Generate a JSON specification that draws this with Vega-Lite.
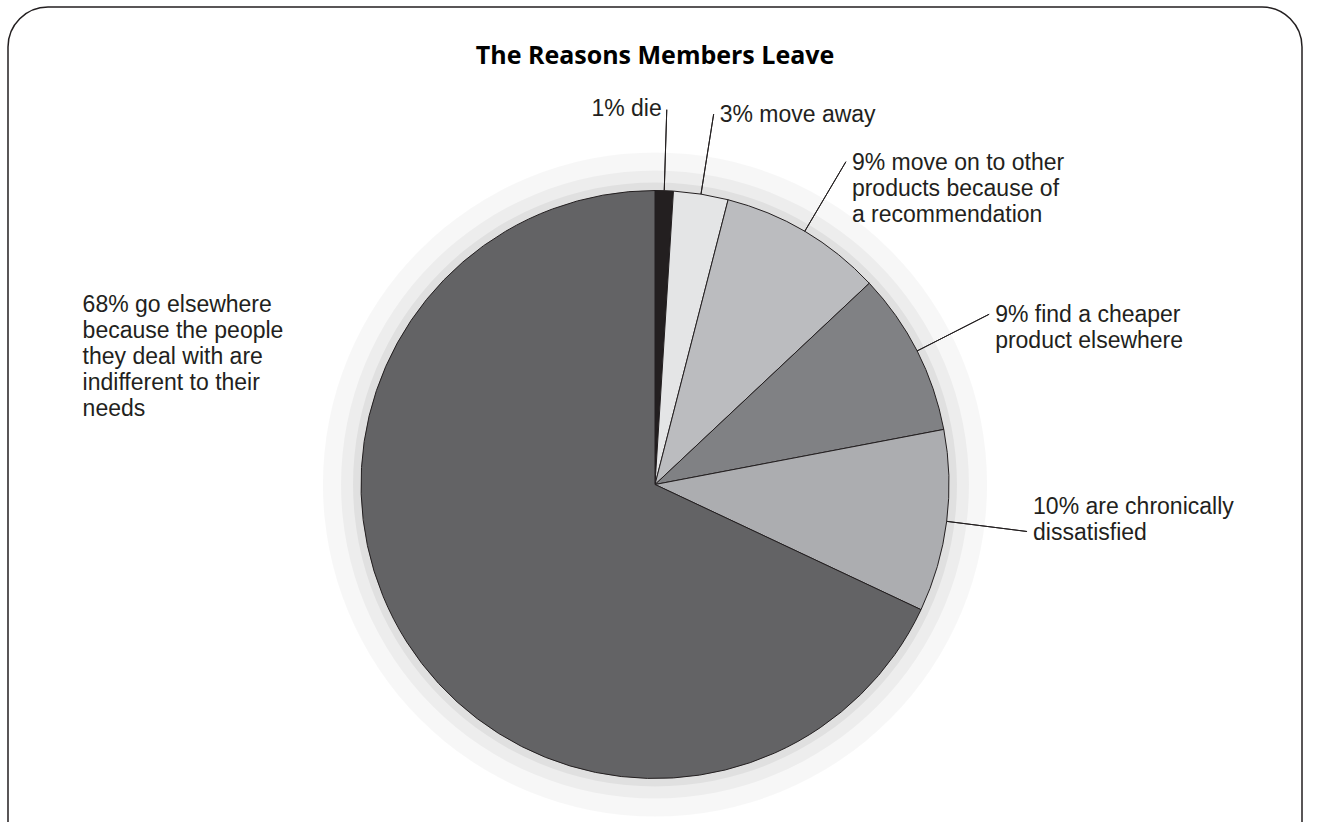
{
  "$schema": "https://vega.github.io/schema/vega-lite/v6.json",
  "width": 1294,
  "height": 955,
  "autosize": "none",
  "padding": {"left": 8, "top": 7, "right": 18, "bottom": -140},
  "background": "white",
  "view": {"stroke": "#231f20", "strokeWidth": 1.5, "cornerRadius": 40, "fill": "white"},
  "title": {
    "text": "The Reasons Members Leave",
    "anchor": "middle",
    "baseline": "alphabetic",
    "offset": -82
  },
  "config": {
    "title": {"font": "Open Sans", "fontSize": 25, "fontWeight": "bold", "color": "#000000"},
    "text": {"font": "Liberation Sans", "fontSize": 23}
  },
  "data": {
    "values": [
      {"reason": "1 die", "share": 1, "label": "1% die"},
      {"reason": "2 move away", "share": 3, "label": "3% move away"},
      {"reason": "3 recommendation", "share": 9, "label": "9% move on to other\nproducts because of\na recommendation"},
      {"reason": "4 cheaper product", "share": 9, "label": "9% find a cheaper\nproduct elsewhere"},
      {"reason": "5 chronic dissatisfaction", "share": 10, "label": "10% are chronically\ndissatisfied"},
      {"reason": "6 indifference", "share": 68, "label": "68% go elsewhere\nbecause the people\nthey deal with are\nindifferent to their\nneeds"}
    ]
  },
  "layer": [
    {
      "transform": [{"aggregate": [{"op": "sum", "field": "share", "as": "share"}]}],
      "mark": {"type": "arc", "radius": 332, "radius2": 294, "color": "#000000", "opacity": 0.03},
      "encoding": {"theta": {"field": "share", "type": "quantitative", "stack": true}}
    },
    {
      "transform": [{"aggregate": [{"op": "sum", "field": "share", "as": "share"}]}],
      "mark": {"type": "arc", "radius": 314, "radius2": 294, "color": "#000000", "opacity": 0.04},
      "encoding": {"theta": {"field": "share", "type": "quantitative", "stack": true}}
    },
    {
      "transform": [{"aggregate": [{"op": "sum", "field": "share", "as": "share"}]}],
      "mark": {"type": "arc", "radius": 302, "radius2": 294, "color": "#000000", "opacity": 0.05},
      "encoding": {"theta": {"field": "share", "type": "quantitative", "stack": true}}
    },
    {
      "mark": {"type": "arc", "radius": 294, "stroke": "#231f20", "strokeWidth": 1},
      "encoding": {
        "theta": {"field": "share", "type": "quantitative", "stack": true},
        "color": {
          "field": "reason",
          "type": "nominal",
          "scale": {
            "domain": ["1 die", "2 move away", "3 recommendation", "4 cheaper product", "5 chronic dissatisfaction", "6 indifference"],
            "range": ["#231f20", "#e4e5e6", "#bbbcbf", "#808184", "#acadb0", "#636365"]
          },
          "legend": null
        }
      }
    },
    {
      "mark": {"type": "arc", "radius": 375, "radius2": 294, "padAngle": 3, "fillOpacity": 0, "stroke": "#231f20", "strokeWidth": 1},
      "encoding": {
        "theta": {"field": "share", "type": "quantitative", "stack": true},
        "detail": {"field": "reason", "type": "nominal"},
        "strokeOpacity": {
          "condition": {"test": "datum.reason === '6 indifference'", "value": 0},
          "value": 1
        }
      }
    },
    {
      "mark": {"type": "text", "radius": 375, "align": "right", "baseline": "alphabetic", "dx": -5, "dy": 6, "lineBreak": "\n", "lineHeight": 26},
      "encoding": {
        "theta": {"field": "share", "type": "quantitative", "stack": true},
        "fill": {"field": "reason", "type": "nominal", "scale": {"range": ["#231f20"]}, "legend": null},
        "text": {
          "condition": {"test": "datum.reason === '1 die'", "field": "label", "type": "nominal"},
          "value": ""
        }
      }
    },
    {
      "mark": {"type": "text", "radius": 375, "align": "left", "baseline": "alphabetic", "dx": 6, "dy": 8, "lineBreak": "\n", "lineHeight": 26},
      "encoding": {
        "theta": {"field": "share", "type": "quantitative", "stack": true},
        "fill": {"field": "reason", "type": "nominal", "scale": {"range": ["#231f20"]}, "legend": null},
        "text": {
          "condition": {"test": "datum.reason === '2 move away' || datum.reason === '3 recommendation' || datum.reason === '4 cheaper product'", "field": "label", "type": "nominal"},
          "value": ""
        }
      }
    },
    {
      "mark": {"type": "text", "radius": 375, "align": "left", "baseline": "alphabetic", "dx": 6, "dy": -18, "lineBreak": "\n", "lineHeight": 26},
      "encoding": {
        "theta": {"field": "share", "type": "quantitative", "stack": true},
        "fill": {"field": "reason", "type": "nominal", "scale": {"range": ["#231f20"]}, "legend": null},
        "text": {
          "condition": {"test": "datum.reason === '5 chronic dissatisfaction'", "field": "label", "type": "nominal"},
          "value": ""
        }
      }
    },
    {
      "mark": {"type": "text", "radius": 375, "align": "left", "baseline": "middle", "dx": -220, "dy": -51, "lineBreak": "\n", "lineHeight": 26},
      "encoding": {
        "theta": {"field": "share", "type": "quantitative", "stack": true, "bandPosition": 0.714},
        "fill": {"field": "reason", "type": "nominal", "scale": {"range": ["#231f20"]}, "legend": null},
        "text": {
          "condition": {"test": "datum.reason === '6 indifference'", "field": "label", "type": "nominal"},
          "value": ""
        }
      }
    }
  ]
}
